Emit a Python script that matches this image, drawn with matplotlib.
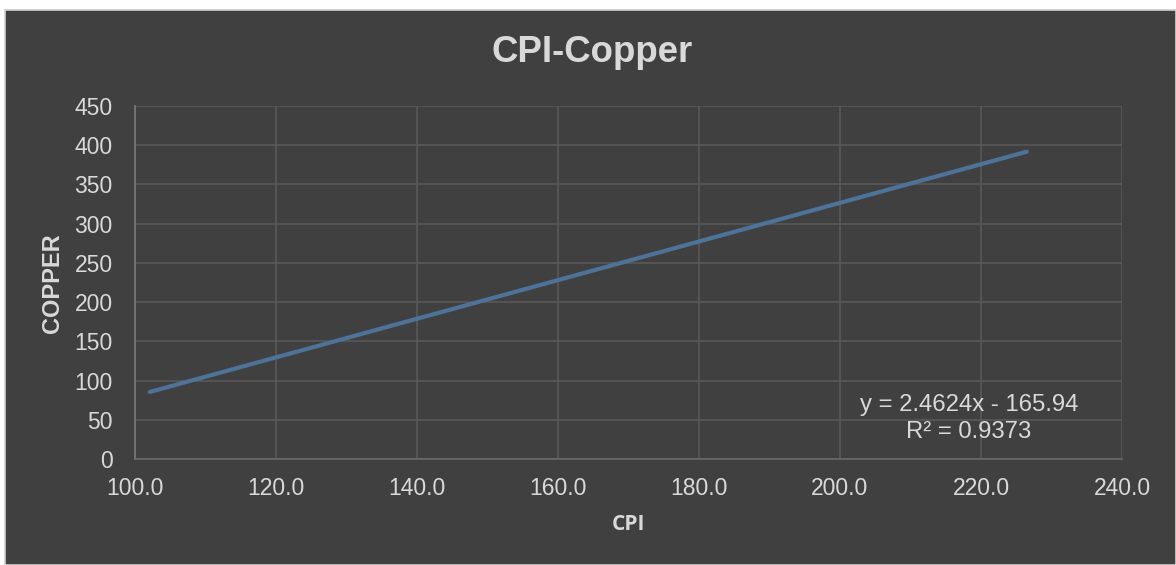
import matplotlib
matplotlib.use("Agg")
import matplotlib.pyplot as plt
from matplotlib.patches import Rectangle
from matplotlib.ticker import FormatStrFormatter
import numpy as np

# Chart data
title = "CPI-Copper"
x_label = "CPI"
y_label = "COPPER"
cpi_range = [102.1, 226.5]          # extent of the fitted trendline along CPI
slope = 2.4624
intercept = -165.94
r_squared = 0.9373
x_ticks = [100, 120, 140, 160, 180, 200, 220, 240]
y_ticks = [0, 50, 100, 150, 200, 250, 300, 350, 400, 450]

BG = "#404040"
TXT = "#d9d9d9"
GRID = "#595959"
LINE = "#4e7398"

W, H = 1176, 565
fig = plt.figure(figsize=(W / 100, H / 100), dpi=100, facecolor="white")

# dark chart area with a thin light frame
fig.patches.append(Rectangle((5 / W, 0), 1 - 5 / W, 1 - 10 / H,
                             transform=fig.transFigure, facecolor=BG,
                             edgecolor="#d0d0d0", linewidth=1.2, zorder=-10))

ax = fig.add_axes([135 / W, 106 / H, (1122 - 135) / W, (459 - 106) / H])
ax.set_facecolor(BG)
ax.set_zorder(1)

xs = np.array(cpi_range)
ys = slope * xs + intercept
ax.plot(xs, ys, color=LINE, linewidth=3.0, solid_capstyle="round", zorder=3)

ax.set_xlim(x_ticks[0], x_ticks[-1])
ax.set_ylim(y_ticks[0], y_ticks[-1])
ax.set_xticks(x_ticks)
ax.set_yticks(y_ticks)
ax.xaxis.set_major_formatter(FormatStrFormatter("%.1f"))

ax.grid(True, color=GRID, linewidth=1.2, zorder=1)
for side in ("top", "right"):
    ax.spines[side].set_visible(False)
ax.spines["left"].set_color("#7a7a7a")
ax.spines["bottom"].set_color("#6a6a6a")
ax.spines["left"].set_linewidth(1.2)
ax.spines["bottom"].set_linewidth(1.2)

ax.tick_params(axis="both", length=0, labelsize=16.5, labelcolor=TXT)
ax.tick_params(axis="x", pad=13)
ax.tick_params(axis="y", pad=16)
for lbl in ax.get_xticklabels() + ax.get_yticklabels():
    lbl.set_fontfamily("Liberation Sans")

fig.text(592 / W, 1 - 53 / H, title, ha="center", va="center",
         fontsize=26.4, fontweight="bold", color=TXT, family="Liberation Sans")
fig.text(628 / W, 1 - 525 / H, x_label, ha="center", va="center",
         fontsize=15, fontweight="bold", color=TXT, family="Open Sans")
fig.text(53 / W, 1 - 283 / H, y_label, ha="center", va="center",
         rotation=90, fontsize=17, fontweight="bold", color=TXT,
         family="Liberation Sans")

sign = "-" if intercept < 0 else "+"
eq = f"y = {slope:.4f}x {sign} {abs(intercept):.2f}"
fig.text(969 / W, 1 - 405 / H, eq, ha="center", va="center",
         fontsize=17.2, color=TXT, family="Liberation Sans", zorder=5)
fig.text(969 / W, 1 - 432 / H, f"R² = {r_squared:.4f}", ha="center",
         va="center", fontsize=17.2, color=TXT, family="Liberation Sans",
         zorder=5)

fig.savefig("out.png", dpi=100, facecolor="white")
